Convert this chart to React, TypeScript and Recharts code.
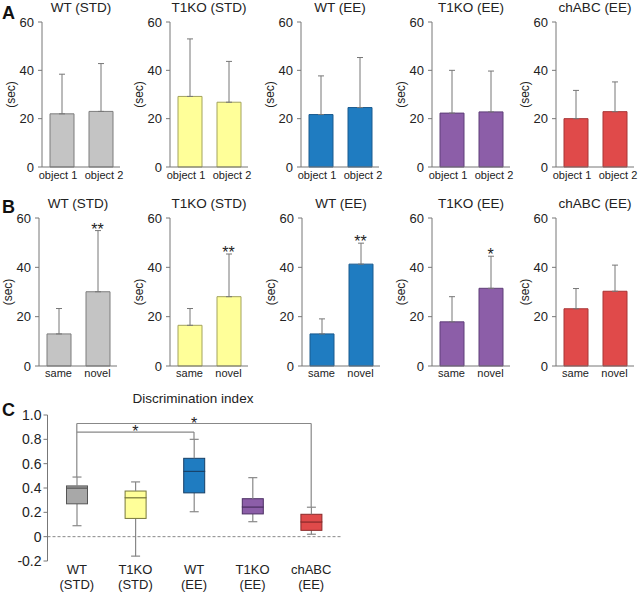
import React from 'react';
import { ComposedChart, Bar, ErrorBar, Scatter, XAxis, YAxis, ReferenceLine } from 'recharts';

const FONT = '"Liberation Sans", Arial, Helvetica, sans-serif';

const groups = ['WT (STD)', 'T1KO (STD)', 'WT (EE)', 'T1KO (EE)', 'chABC (EE)'];
const objectLabels = ['object 1', 'object 2'];
const testLabels = ['same', 'novel'];
const secTicks = [0, 20, 40, 60];

// A: time spent on each object (mean, upper error)
const objMean = [[22, 23], [29.2, 26.8], [21.7, 24.6], [22.3, 22.8], [20, 22.9]];
const objErr = [[16.4, 19.8], [23.8, 16.9], [16, 20.7], [17.7, 16.9], [11.7, 12.3]];

// B: same vs novel
const testMean = [[13, 30.1], [16.5, 28.1], [13, 41.3], [17.9, 31.5], [23.2, 30.3]];
const testErr = [[10.3, 24.8], [6.8, 17.3], [6.1, 8.5], [10.2, 13], [8.2, 10.6]];
const testStars = [['', '**'], ['', '**'], ['', '**'], ['', '*'], ['', '']];

// C: discrimination index box plot
const diLow = [0.09, -0.16, 0.205, 0.123, 0.02];
const diQ1 = [0.27, 0.15, 0.36, 0.187, 0.052];
const diMedian = [0.4, 0.32, 0.537, 0.244, 0.121];
const diQ3 = [0.417, 0.375, 0.644, 0.312, 0.184];
const diHigh = [0.49, 0.45, 0.8, 0.485, 0.242];
const diTicks = [-0.2, 0, 0.2, 0.4, 0.6, 0.8, 1.0];
const brackets = [
  { from: 'WT (STD)', to: 'WT (EE)', fromY: 0.49, toY: 0.8, level: 0.86, mark: '*' },
  { from: 'WT (STD)', to: 'chABC (EE)', fromY: 0.86, toY: 0.242, level: 0.93, mark: '*' },
];

const fills = ['#c4c4c4', '#ffff99', '#1f7cc1', '#8c5ea8', '#e04a4a'];
const strokes = ['#7d7d7d', '#a3a35c', '#1a5a8e', '#5f3f78', '#a83535'];
const boxFills = ['#a8a8a8', '#ffff99', '#1f7cc1', '#8c5ea8', '#e04a4a'];
const boxStrokes = ['#555555', '#77773a', '#173f66', '#4c2f63', '#8a2a2a'];

const axisXA = [42, 170, 301, 432, 556];
const axisXB = [39, 170, 302, 432, 556];

const AXIS = '#777';
const TEXT = '#222';

const StarShape = (props: any) => {
  const s = props.payload && props.payload.star;
  if (!s) return <g />;
  return (
    <text x={props.cx} y={props.cy + 4} textAnchor="middle" fontSize={16} fill={TEXT} fontFamily={FONT}>
      {s}
    </text>
  );
};

// category labels; the "object" labels sit a bit wider apart than the bars
const CatTick = ({ x, y, payload, index, spread }: any) => (
  <text x={x + (index === 0 ? -spread : spread)} y={y} dy="0.71em" textAnchor="middle" fontSize={11} fill={TEXT} fontFamily={FONT}>
    {payload.value}
  </text>
);

function SmallBars({ idx, cats, means, errs, stars, axisX, top, plotH, tickGap, spread }: any) {
  const data = cats.map((c: string, i: number) => ({
    name: c,
    value: means[i],
    err: [0, errs[i]],
    top: means[i] + errs[i],
    star: stars ? stars[i] : '',
  }));
  return (
    <div style={{ position: 'absolute', left: axisX - 42, top }}>
      <div
        style={{
          position: 'absolute', left: 32, width: 98, top: 0.5, textAlign: 'center',
          fontSize: 13.5, lineHeight: '14px', whiteSpace: 'nowrap', color: TEXT,
        }}
      >
        {groups[idx]}
      </div>
      <ComposedChart width={130} height={22 + plotH + 23} data={data} margin={{ top: 22, right: 10, bottom: 3, left: 0 }}>
        <XAxis
          dataKey="name"
          interval={0}
          height={20}
          tickLine={false}
          tickSize={0}
          tickMargin={tickGap}
          axisLine={{ stroke: AXIS }}
          tick={<CatTick spread={spread} />}
        />
        <YAxis
          domain={[0, 60]}
          ticks={secTicks}
          interval={0}
          width={42}
          tickSize={4}
          tickMargin={4}
          axisLine={{ stroke: AXIS }}
          tickLine={{ stroke: AXIS }}
          tick={{ fontSize: 13, fill: TEXT, fontFamily: FONT }}
          label={{
            value: '(sec)', angle: -90, position: 'insideLeft', offset: 11,
            fontSize: 12, fill: TEXT, fontFamily: FONT, style: { textAnchor: 'middle' },
          }}
        />
        <Bar dataKey="value" barSize={24} fill={fills[idx]} stroke={strokes[idx]} strokeWidth={1} isAnimationActive={false}>
          <ErrorBar dataKey="err" direction="y" width={3} stroke={AXIS} strokeWidth={1} />
        </Bar>
        <Scatter dataKey="top" shape={StarShape} isAnimationActive={false} />
      </ComposedChart>
    </div>
  );
}

const LowerWhisker = (p: any) => {
  const cx = p.x + p.width / 2;
  const yb = p.y + p.height;
  return (
    <g>
      <line x1={cx} x2={cx} y1={p.y} y2={yb} stroke="#888" strokeWidth={1.2} />
      <line x1={cx - 4.5} x2={cx + 4.5} y1={yb} y2={yb} stroke="#888" strokeWidth={1.2} />
    </g>
  );
};

const UpperWhisker = (p: any) => {
  const cx = p.x + p.width / 2;
  return (
    <g>
      <line x1={cx} x2={cx} y1={p.y} y2={p.y + p.height} stroke="#888" strokeWidth={1.2} />
      <line x1={cx - 4.5} x2={cx + 4.5} y1={p.y} y2={p.y} stroke="#888" strokeWidth={1.2} />
    </g>
  );
};

const BoxPart = (p: any) => (
  <rect x={p.x} y={p.y} width={p.width} height={p.height} fill={boxFills[p.index]} stroke={boxStrokes[p.index]} strokeWidth={1} />
);

const TwoLineTick = ({ x, y, payload }: any) => {
  const [a, b] = String(payload.value).split(' ');
  return (
    <g>
      <text x={x} y={y} dy="0.71em" textAnchor="middle" fontSize={13} fill={TEXT} fontFamily={FONT}>{a}</text>
      <text x={x} y={y + 15} dy="0.71em" textAnchor="middle" fontSize={13} fill={TEXT} fontFamily={FONT}>{b}</text>
    </g>
  );
};

function BoxPanel() {
  const data = groups.map((g, i) => ({
    name: g,
    s0: diLow[i],
    s1: diQ1[i] - diLow[i],
    s2: diMedian[i] - diQ1[i],
    s3: diQ3[i] - diMedian[i],
    s4: diHigh[i] - diQ3[i],
  }));
  return (
    <div style={{ position: 'absolute', left: 0, top: 395 }}>
      <div
        style={{
          position: 'absolute', left: 93, width: 200, top: -3, textAlign: 'center',
          fontSize: 13.5, lineHeight: '14px', color: TEXT, whiteSpace: 'nowrap',
        }}
      >
        Discrimination index
      </div>
      <ComposedChart width={342} height={199} data={data} margin={{ top: 20, right: 1.5, bottom: 3, left: 0 }}>
        <XAxis
          dataKey="name"
          interval={0}
          height={30}
          axisLine={false}
          tickLine={false}
          tickSize={0}
          tickMargin={4}
          tick={<TwoLineTick />}
        />
        <YAxis
          domain={[-0.2, 1]}
          ticks={diTicks}
          interval={0}
          width={47.5}
          tickSize={4}
          tickMargin={2}
          axisLine={{ stroke: AXIS }}
          tickLine={{ stroke: AXIS }}
          tickFormatter={(v: number) => (v === 0 ? '0' : v.toFixed(1))}
          tick={{ fontSize: 14, fill: TEXT, fontFamily: FONT }}
        />
        <ReferenceLine y={0} stroke="#888" strokeDasharray="3 2" />
        <Bar dataKey="s0" stackId="box" barSize={21} shape={() => <g />} isAnimationActive={false} />
        <Bar dataKey="s1" stackId="box" barSize={21} shape={LowerWhisker} isAnimationActive={false} />
        <Bar dataKey="s2" stackId="box" barSize={21} shape={BoxPart} isAnimationActive={false} />
        <Bar dataKey="s3" stackId="box" barSize={21} shape={BoxPart} isAnimationActive={false} />
        <Bar dataKey="s4" stackId="box" barSize={21} shape={UpperWhisker} isAnimationActive={false} />
        {brackets.map((b, i) => (
          <React.Fragment key={i}>
            <ReferenceLine segment={[{ x: b.from, y: b.fromY }, { x: b.from, y: b.level }]} stroke="#888" strokeWidth={1.2} />
            <ReferenceLine
              segment={[{ x: b.from, y: b.level }, { x: b.to, y: b.level }]}
              stroke="#888"
              strokeWidth={1.2}
              label={{ value: b.mark, position: 'top', offset: -5, fontSize: 16, fill: TEXT, fontFamily: FONT }}
            />
            <ReferenceLine segment={[{ x: b.to, y: b.level }, { x: b.to, y: b.toY }]} stroke="#888" strokeWidth={1.2} />
          </React.Fragment>
        ))}
      </ComposedChart>
    </div>
  );
}

const letterStyle = (top: number): React.CSSProperties => ({
  position: 'absolute', left: 2, top, fontSize: 18, lineHeight: '18px', fontWeight: 'bold', color: '#111',
});

export default function App() {
  return (
    <div style={{ position: 'absolute', left: 0, top: 0, width: 640, height: 594, background: '#fff', fontFamily: FONT, overflow: 'hidden' }}>
      {groups.map((g, i) => (
        <SmallBars key={'a' + g} idx={i} cats={objectLabels} means={objMean[i]} errs={objErr[i]} stars={null}
          axisX={axisXA[i]} top={0} plotH={145} tickGap={4.5} spread={3.5} />
      ))}
      {groups.map((g, i) => (
        <SmallBars key={'b' + g} idx={i} cats={testLabels} means={testMean[i]} errs={testErr[i]} stars={testStars[i]}
          axisX={axisXB[i]} top={196} plotH={148} tickGap={3} spread={0} />
      ))}
      <BoxPanel />
      <div style={letterStyle(4)}>A</div>
      <div style={letterStyle(198)}>B</div>
      <div style={letterStyle(401)}>C</div>
    </div>
  );
}
